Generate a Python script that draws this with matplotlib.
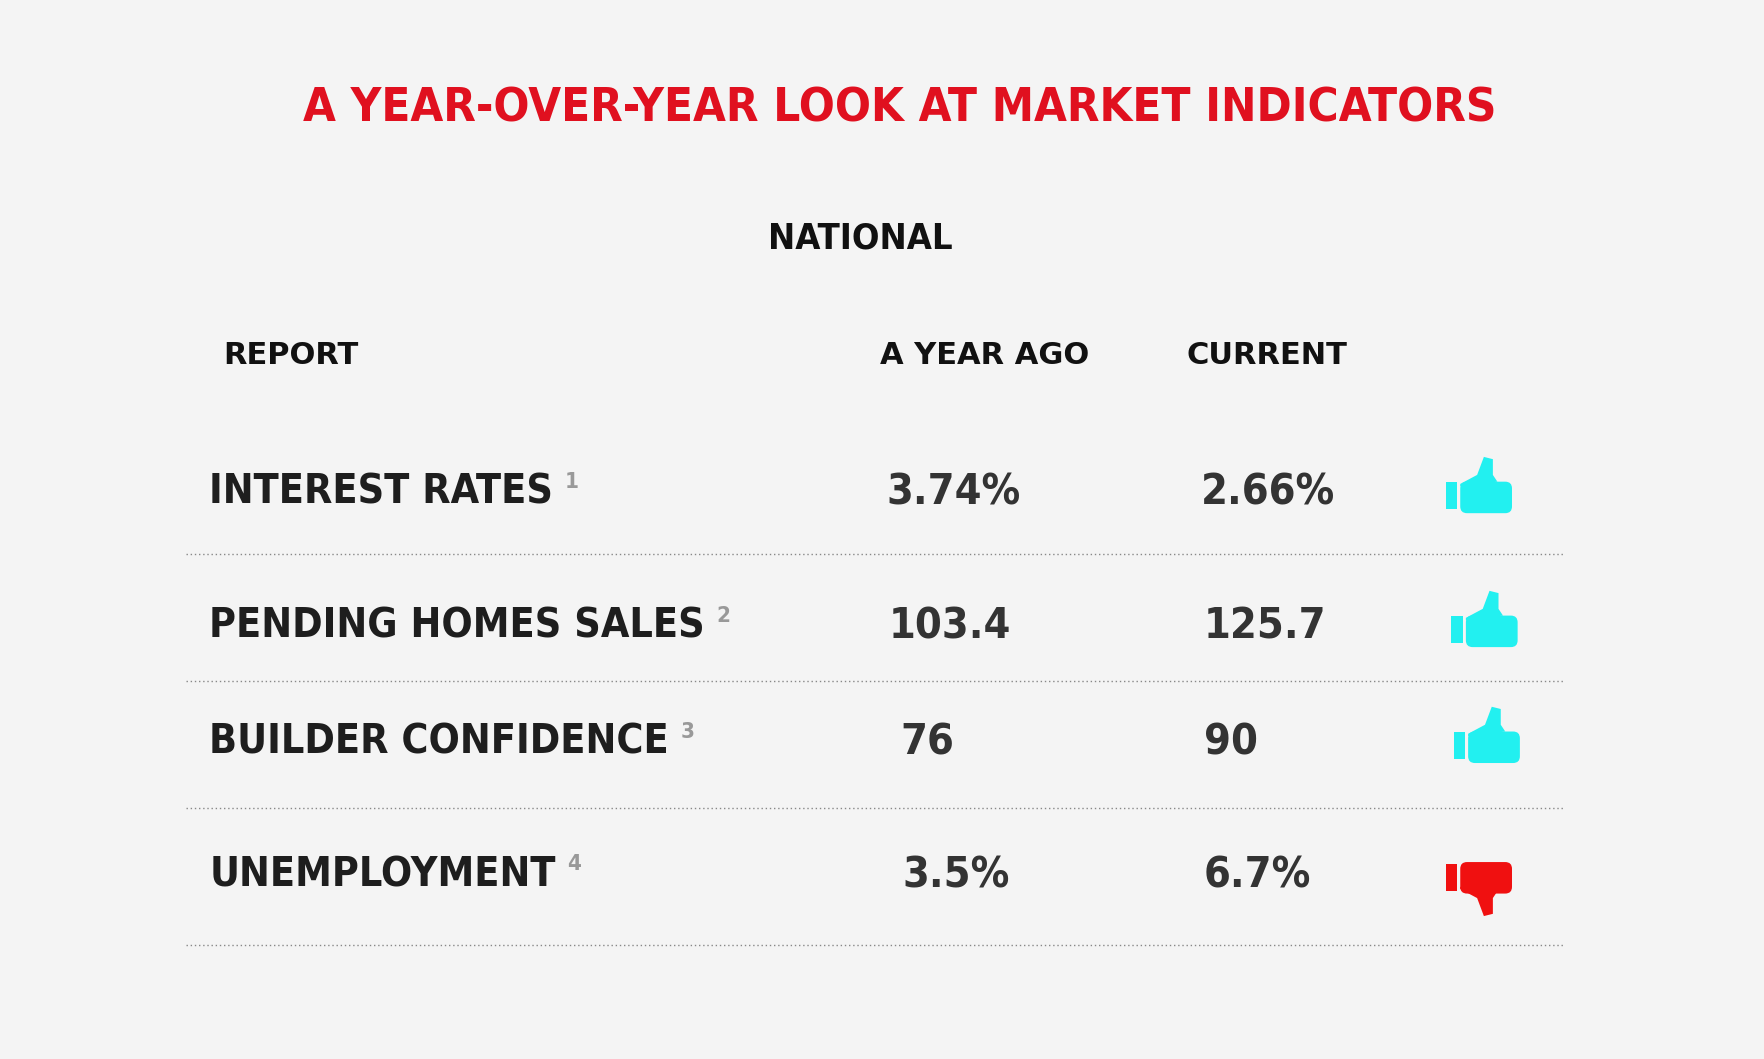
import matplotlib
matplotlib.use("Agg")
import matplotlib.pyplot as plt
from matplotlib.patches import Polygon, Rectangle, FancyBboxPatch

title = "A YEAR-OVER-YEAR LOOK AT MARKET INDICATORS"
subtitle = "NATIONAL"
headers = ["REPORT", "A YEAR AGO", "CURRENT"]
reports = ["INTEREST RATES", "PENDING HOMES SALES", "BUILDER CONFIDENCE", "UNEMPLOYMENT"]
footnotes = ["1", "2", "3", "4"]
year_ago = ["3.74%", "103.4", "76", "3.5%"]
current = ["2.66%", "125.7", "90", "6.7%"]
thumbs = ["up", "up", "up", "down"]

W, H = 1568, 941
fig = plt.figure(figsize=(17.64, 10.59), dpi=100)
fig.patch.set_facecolor("#f4f4f4")
ax = fig.add_axes([0, 0, 1, 1])
ax.set_xlim(0, W); ax.set_ylim(H, 0); ax.axis("off")

FN = "DejaVu Sans"
ST = "condensed"
ax.text(800, 97, title, ha="center", va="center", color="#e0101f", fontsize=34,
        fontweight="bold", family=FN, fontstretch=ST)
ax.text(765, 212, subtitle, ha="center", va="center", color="#111", fontsize=26,
        fontweight="bold", family=FN, fontstretch=ST)
for x, h in zip([198, 782, 1055], headers):
    ax.text(x, 316, h, ha="left", va="center", color="#111", fontsize=22,
            fontweight="bold", family=FN)

row_y = [438, 557, 660, 778]
line_y = [492, 605, 718, 840]
ya_x = [788, 790, 800, 802]
cu_x = [1067, 1070, 1070, 1070]
th_x = [1285, 1290, 1292, 1285]

def thumb(x0, yc, up, color):
    ax.add_patch(Rectangle((x0, yc - 12), 10, 24, color=color, lw=0))
    ax.add_patch(FancyBboxPatch((x0 + 13, yc - 12 if up else yc - 14), 46, 28,
                 boxstyle="round,pad=0,rounding_size=6", color=color, lw=0))
    s = -1 if up else 1
    pts = [(x0+13, yc+s*10), (x0+28, yc+s*18), (x0+34, yc+s*34), (x0+42, yc+s*32),
           (x0+42, yc+s*18), (x0+46, yc+s*12), (x0+13, yc+s*8)]
    ax.add_patch(Polygon(pts, closed=True, color=color, lw=0))

for i, r in enumerate(reports):
    y = row_y[i]
    t = ax.text(186, y, r, ha="left", va="center", color="#1e1e1e", fontsize=29.5,
                fontweight="bold", family=FN, fontstretch=ST)
    fig.canvas.draw()
    bb = t.get_window_extent().transformed(ax.transData.inverted())
    ax.text(bb.x1 + 10, y - 10, footnotes[i], ha="left", va="center", color="#999",
            fontsize=16, fontweight="bold", family=FN, fontstretch=ST)
    ax.text(ya_x[i], y, year_ago[i], ha="left", va="center", color="#333", fontsize=31,
            fontweight="bold", family=FN, fontstretch=ST)
    ax.text(cu_x[i], y, current[i], ha="left", va="center", color="#333", fontsize=31,
            fontweight="bold", family=FN, fontstretch=ST)
    up = thumbs[i] == "up"
    thumb(th_x[i], y + 2, up, "#22f0f0" if up else "#f01010")
    ax.plot([165, 1390], [line_y[i]] * 2, color="#888", lw=1, ls=(0, (1, 2)))

fig.savefig("out.png", dpi=100, facecolor=fig.get_facecolor())
